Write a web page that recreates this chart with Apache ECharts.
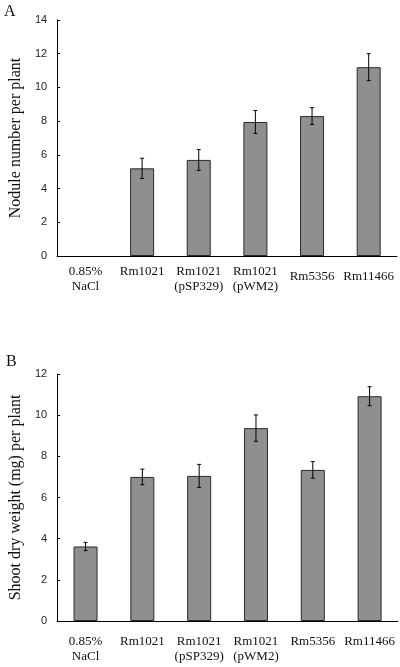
<!DOCTYPE html>
<html><head><meta charset="utf-8">
<script src="https://cdn.jsdelivr.net/npm/echarts@6/dist/echarts.min.js"></script>
<style>html,body{margin:0;padding:0;background:#fff}#c{width:400px;height:667px}</style>
</head><body><div id="c"></div>
<script>
const categories = ['0.85%\nNaCl', 'Rm1021', 'Rm1021\n(pSP329)', 'Rm1021\n(pWM2)', 'Rm5356', 'Rm11466'];
const noduleValues = [0, 5.2, 5.7, 7.95, 8.3, 11.2];
const noduleErrors = [0, 0.6, 0.62, 0.68, 0.5, 0.8];
const shootValues = [3.62, 7.0, 7.05, 9.37, 7.34, 10.92];
const shootErrors = [0.2, 0.38, 0.56, 0.64, 0.4, 0.46];
const noduleTicks = [0, 2, 4, 6, 8, 10, 12, 14];
const shootTicks = [0, 2, 4, 6, 8, 10, 12];

const serif = '"Liberation Serif", "DejaVu Serif", serif';
const sans = '"Liberation Sans", Arial, sans-serif';

const chart = echarts.init(document.getElementById('c'), null, {renderer: 'canvas'});

function catData(shiftIdx) {
  return categories.map((c, i) => shiftIdx.includes(i) ? {value: c, textStyle: {padding: [5, 0, 0, 0]}} : c);
}
function xAxis(gi, margin, shiftIdx) {
  return {
    type: 'category', gridIndex: gi, data: catData(shiftIdx),
    axisLine: {lineStyle: {color: '#000', width: 1}},
    axisTick: {show: false},
    axisLabel: {interval: 0, margin: margin, fontFamily: serif, fontSize: 13, color: '#111', lineHeight: 15}
  };
}
function yAxis(gi, ticks, name, gap) {
  return {
    type: 'value', gridIndex: gi, min: ticks[0], max: ticks[ticks.length - 1], interval: 2,
    name: name, nameLocation: 'middle', nameGap: gap,
    nameTextStyle: {fontFamily: serif, fontSize: 16, color: '#111'},
    splitLine: {show: false},
    axisLine: {show: true, lineStyle: {color: '#000', width: 1}},
    axisTick: {show: true, inside: true, length: 3, lineStyle: {color: '#000'}},
    axisLabel: {fontFamily: sans, fontSize: 11, color: '#222', margin: 10,
      formatter: v => ticks.includes(v) ? String(v) : ''}
  };
}
function errSeries(xi, vals, errs) {
  return {
    type: 'custom', xAxisIndex: xi, yAxisIndex: xi, z: 5,
    data: vals.map((v, i) => [i, v, errs[i]]),
    renderItem: (params, api) => {
      const i = api.value(0), v = api.value(1), e = api.value(2);
      if (!e) return null;
      const top = api.coord([i, v + e]);
      const bot = api.coord([i, v - e]);
      const cap = 2;
      const st = {stroke: '#000', lineWidth: 1};
      return {type: 'group', children: [
        {type: 'line', shape: {x1: top[0], y1: top[1], x2: bot[0], y2: bot[1]}, style: st},
        {type: 'line', shape: {x1: top[0] - cap, y1: top[1], x2: top[0] + cap, y2: top[1]}, style: st},
        {type: 'line', shape: {x1: bot[0] - cap, y1: bot[1], x2: bot[0] + cap, y2: bot[1]}, style: st}
      ]};
    }
  };
}
const barStyle = {color: '#8f8f8f', borderColor: '#2a2a2a', borderWidth: 1};
function barData(vals) {
  return vals.map(v => v === 0 ? {value: 0, itemStyle: {borderWidth: 0}} : v);
}

chart.setOption({
  animation: false,
  grid: [
    {left: 57, right: 3, top: 20, bottom: 411},
    {left: 53, right: 2, top: 374, bottom: 46}
  ],
  graphic: [
    {type: 'text', left: 4, top: 4, style: {text: 'A', font: '16px ' + serif, fill: '#111'}},
    {type: 'text', left: 6, top: 354, style: {text: 'B', font: '16px ' + serif, fill: '#111'}}
  ],
  xAxis: [xAxis(0, 8, [4, 5]), xAxis(1, 13, [])],
  yAxis: [yAxis(0, noduleTicks, 'Nodule number per plant', 32), yAxis(1, shootTicks, 'Shoot dry weight (mg) per plant', 28)],
  series: [
    {type: 'bar', xAxisIndex: 0, yAxisIndex: 0, data: barData(noduleValues), barWidth: 24, itemStyle: barStyle},
    errSeries(0, noduleValues, noduleErrors),
    {type: 'bar', xAxisIndex: 1, yAxisIndex: 1, data: barData(shootValues), barWidth: 24, itemStyle: barStyle},
    errSeries(1, shootValues, shootErrors)
  ]
});
</script></body></html>
